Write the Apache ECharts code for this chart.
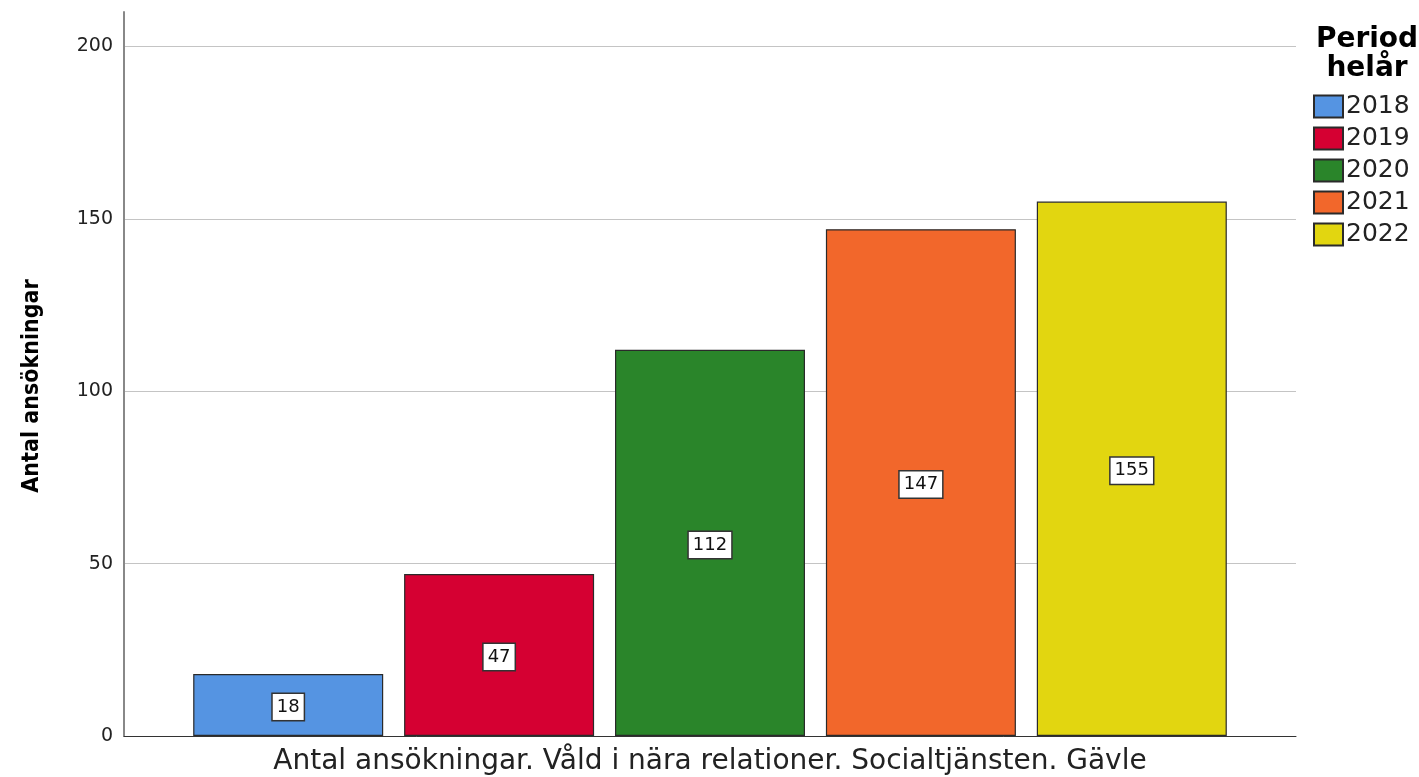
<!DOCTYPE html>
<html>
<head>
<meta charset="utf-8">
<script src="https://cdn.jsdelivr.net/npm/echarts@6/dist/echarts.min.js"></script>
<style>html,body{margin:0;padding:0;background:#fff}#c{width:1419px;height:777px}</style>
</head>
<body>
<div id="c"></div>
<script>
const categories = ['Antal ansökningar. Våld i nära relationer. Socialtjänsten. Gävle'];
const years = ['2018', '2019', '2020', '2021', '2022'];
const values = [18, 47, 112, 147, 155];
const colors = ['#5594e2', '#d50032', '#2a852a', '#f2672b', '#e2d610'];
const yTicks = [0, 50, 100, 150, 200];

const chart = echarts.init(document.getElementById('c'));
const FONT = '"DejaVu Sans", Verdana, sans-serif';
const CFONT = '"DejaVu Sans Condensed", "Liberation Sans", Arial, sans-serif';
const series = years.map((y, i) => ({
  name: y,
  type: 'bar',
  data: [values[i]],
  barWidth: 190,
  barGap: '11%',
  itemStyle: { color: colors[i], borderColor: '#2a2a2a', borderWidth: 1.2 },
  label: {
    show: true, position: 'inside', offset: [0, 2], color: '#111', fontSize: 18, fontFamily: FONT,
    backgroundColor: '#fff', borderColor: '#333', borderWidth: 1.5, padding: [5, 4, 3, 4]
  }
}));
chart.setOption({
  animation: false,
  textStyle: { fontFamily: FONT },
  grid: { left: 124, right: 123, top: 12, bottom: 41, containLabel: false },
  title: {
    text: 'Period\nhelår', left: 1362, top: 20, textAlign: 'center',
    textStyle: { fontSize: 28, fontWeight: 'bold', color: '#000', lineHeight: 29, fontFamily: FONT }
  },
  legend: {
    orient: 'vertical', left: 1308, top: 89, itemWidth: 29, itemHeight: 22, itemGap: 7,
    icon: 'rect', selectedMode: false,
    textStyle: { fontSize: 25, color: '#222', fontFamily: FONT, padding: [0, 0, 0, -2] },
    data: years
  },
  xAxis: {
    type: 'category', data: categories,
    axisLine: { lineStyle: { color: '#333', width: 1 } },
    axisTick: { show: false },
    axisLabel: { fontSize: 28, color: '#222', margin: 12, fontFamily: FONT }
  },
  yAxis: {
    type: 'value', min: 0, max: 210, interval: 50,
    name: 'Antal ansökningar', nameLocation: 'middle', nameGap: 80, nameRotate: 90,
    nameTextStyle: { fontSize: 23, fontWeight: 'bold', color: '#000', fontFamily: CFONT, padding: [0, 24, 0, 0] },
    axisLine: { show: true, lineStyle: { color: '#888', width: 2 } },
    axisTick: { show: false },
    axisLabel: {
      fontSize: 19, color: '#222', margin: 11, fontFamily: FONT,
      formatter: v => (yTicks.indexOf(v) >= 0 ? String(v) : '')
    },
    splitLine: { show: true, lineStyle: { color: ['#c4c4c4', '#c4c4c4', '#c4c4c4', '#c4c4c4', '#c4c4c4', 'rgba(0,0,0,0)'], width: 1 } }
  },
  series: series
});
</script>
</body>
</html>
